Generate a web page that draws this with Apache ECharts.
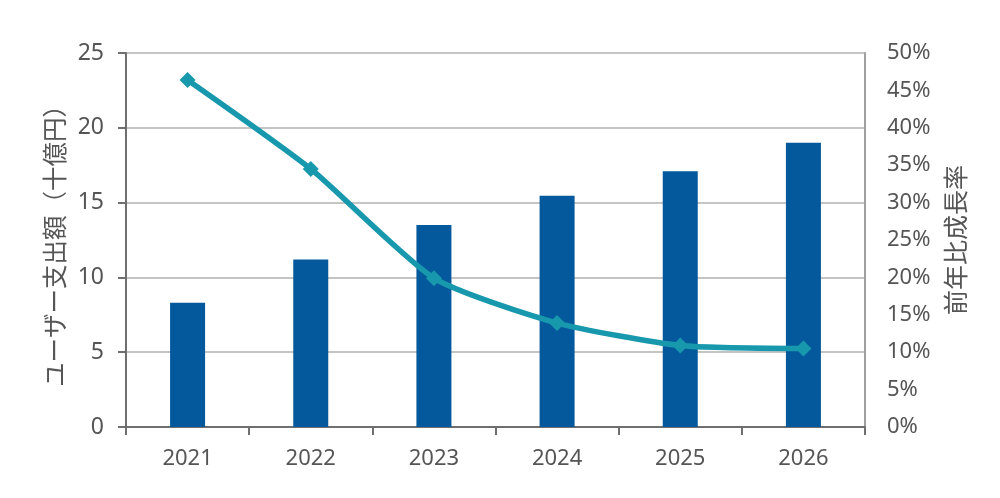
<!DOCTYPE html>
<html>
<head>
<meta charset="utf-8">
<script src="https://cdn.jsdelivr.net/npm/echarts@6/dist/echarts.min.js"></script>
<style>
    html, body { margin: 0; padding: 0; background: #fff; }
    #js_chart { width: 1000px; height: 498px; }
</style>
</head>
<body>
<div id="js_chart"></div>
<script>
// 年度
var years = ['2021', '2022', '2023', '2024', '2025', '2026'];
// ユーザー支出額（十億円）
var spending = [8.3, 11.2, 13.5, 15.45, 17.1, 19.0];
// 前年比成長率
var growth = [0.464, 0.345, 0.199, 0.139, 0.109, 0.105];

var fontLatin = '"Noto Sans", "Noto Sans CJK JP", sans-serif';
var fontCjk = '"Noto Sans CJK JP", "Noto Sans", sans-serif';
var textColor = '#555555';

var chart = echarts.init(document.getElementById('js_chart'));

var option = {
    animation: false,
    grid: {
        left: 126,
        right: 135,
        top: 53,
        bottom: 71
    },
    xAxis: [{
        type: 'category',
        data: years,
        axisLine: { lineStyle: { color: '#6f6f6f', width: 2 } },
        axisTick: { show: true, length: 8, lineStyle: { color: '#6f6f6f', width: 2 } },
        axisLabel: { color: textColor, fontFamily: fontLatin, fontSize: 22, margin: 21 }
    }],
    yAxis: [{
        type: 'value',
        min: 0,
        max: 25,
        interval: 5,
        name: 'ユーザー支出額（十億円）',
        nameLocation: 'middle',
        nameRotate: 90,
        nameGap: 58,
        nameTextStyle: { color: textColor, fontFamily: fontCjk, fontSize: 24.5 },
        axisLine: { show: true, lineStyle: { color: '#6f6f6f', width: 2 } },
        axisTick: { show: true, length: 8, lineStyle: { color: '#6f6f6f', width: 2 } },
        axisLabel: { color: textColor, fontFamily: fontLatin, fontSize: 23, margin: 22 },
        splitLine: { show: true, lineStyle: { color: '#b0b0b0', width: 1.5 } }
    }, {
        type: 'value',
        min: 0,
        max: 0.5,
        interval: 0.05,
        position: 'right',
        name: '前年比成長率',
        nameLocation: 'middle',
        nameRotate: 90,
        nameGap: 78,
        nameTextStyle: { color: textColor, fontFamily: fontCjk, fontSize: 25 },
        axisLine: { show: true, lineStyle: { color: '#a0a0a0', width: 2 } },
        axisTick: { show: false },
        axisLabel: {
            color: textColor,
            fontFamily: fontLatin,
            fontSize: 22,
            margin: 22,
            formatter: function(v) { return Math.round(v * 100) + '%'; }
        },
        splitLine: { show: false }
    }],
    series: [{
        name: 'ユーザー支出額',
        type: 'bar',
        yAxisIndex: 0,
        barWidth: 35,
        itemStyle: { color: '#03599b' },
        data: spending
    }, {
        name: '前年比成長率',
        type: 'line',
        yAxisIndex: 1,
        smooth: 0.2,
        symbol: 'diamond',
        symbolSize: 16,
        lineStyle: { color: '#1898ad', width: 5.5 },
        itemStyle: { color: '#1898ad' },
        data: growth
    }]
};
chart.setOption(option, true);
</script>
</body>
</html>
